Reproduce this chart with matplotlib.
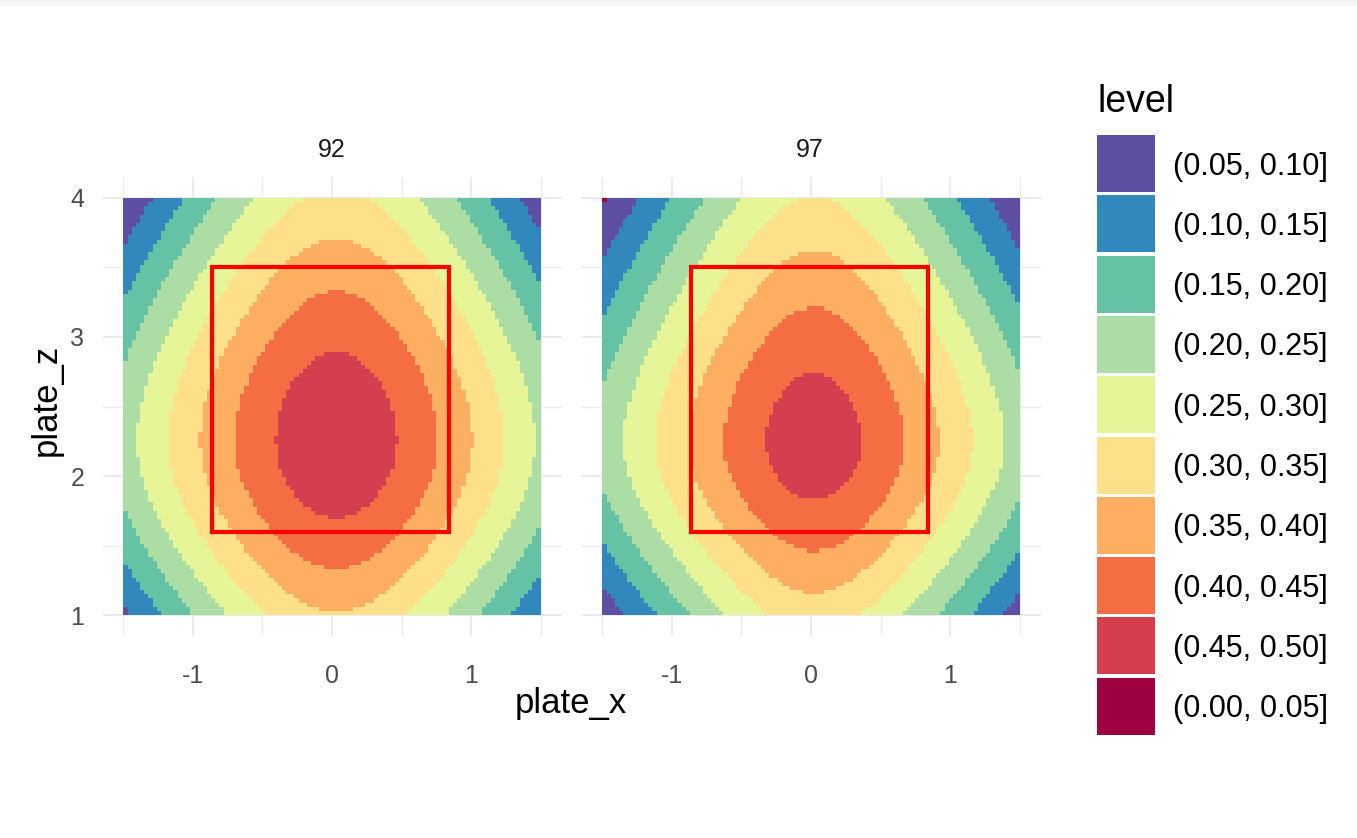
import numpy as np
import matplotlib
matplotlib.use('Agg')
import matplotlib.pyplot as plt
from matplotlib.colors import ListedColormap, BoundaryNorm
from matplotlib.patches import Rectangle

plt.rcParams['font.family'] = ['Liberation Sans', 'DejaVu Sans']
plt.rcParams['axes.unicode_minus'] = False

# Facets (pitch speed) and the fitted swing-probability surface for each
speeds = ['92', '97']
peak_prob = [0.485, 0.475]
x_center = [0.03, 0.02]
z_center = [2.25, 2.24]
x_slope = [0.247, 0.235]
x_round = [0.60, 0.50]
z_slope_up = [0.156, 0.138]
z_slope_down = [0.204, 0.196]
z_round = [0.80, 0.60]

# Binned levels and their Spectral colours
level_breaks = [0.00, 0.05, 0.10, 0.15, 0.20, 0.25, 0.30, 0.35, 0.40, 0.45, 0.50]
level_colors = ['#9E0142', '#5E4FA2', '#3288BD', '#66C2A5', '#ABDDA4',
                '#E6F598', '#FEE08B', '#FDAE61', '#F46D43', '#D53E4F']
legend_labels = ['(0.05, 0.10]', '(0.10, 0.15]', '(0.15, 0.20]', '(0.20, 0.25]',
                 '(0.25, 0.30]', '(0.30, 0.35]', '(0.35, 0.40]', '(0.40, 0.45]',
                 '(0.45, 0.50]', '(0.00, 0.05]']
legend_colors = level_colors[1:] + level_colors[:1]

# Strike zone
zone_x = [-0.86, 0.84]
zone_z = [1.60, 3.50]

W, H = 1357, 838
fig = plt.figure(figsize=(W / 100, H / 100), dpi=100)


def px_box(left, top, right, bottom):
    return [left / W, 1 - bottom / H, (right - left) / W, (bottom - top) / H]


def soft_abs(t, c):
    return np.sqrt(t ** 2 + c ** 2) - c


x_edges = np.linspace(-1.5, 1.5, 101)
z_edges = np.linspace(1.0, 4.0, 101)
xc = (x_edges[:-1] + x_edges[1:]) / 2
zc = (z_edges[:-1] + z_edges[1:]) / 2
X, Z = np.meshgrid(xc, zc)

cmap = ListedColormap(level_colors)
norm = BoundaryNorm(level_breaks, cmap.N)

panel_boxes = [px_box(102, 177, 562, 636), px_box(581, 177, 1041, 636)]
for i, speed in enumerate(speeds):
    ax = fig.add_axes(panel_boxes[i])
    dz = Z - z_center[i]
    z_part = np.where(dz > 0, z_slope_up[i], z_slope_down[i]) * soft_abs(dz, z_round[i])
    prob = peak_prob[i] - x_slope[i] * soft_abs(X - x_center[i], x_round[i]) - z_part
    prob = np.clip(prob, 0.001, 0.499)
    ax.pcolormesh(x_edges, z_edges, prob, cmap=cmap, norm=norm, shading='flat')
    ax.plot([zone_x[0], zone_x[1], zone_x[1], zone_x[0], zone_x[0]],
            [zone_z[0], zone_z[0], zone_z[1], zone_z[1], zone_z[0]],
            color='red', lw=3, solid_joinstyle='miter')

    ax.set_xlim(-1.65, 1.65)
    ax.set_ylim(0.85, 4.15)
    ax.set_aspect('equal')
    ax.set_xticks([-1, 0, 1])
    ax.set_xticks([-1.5, -0.5, 0.5, 1.5], minor=True)
    ax.set_yticks([1, 2, 3, 4])
    ax.set_yticks([1.5, 2.5, 3.5], minor=True)
    ax.set_axisbelow(True)
    ax.grid(which='major', color='#EBEBEB', lw=1.5)
    ax.grid(which='minor', color='#EBEBEB', lw=1.0)
    for s in ax.spines.values():
        s.set_visible(False)
    ax.tick_params(which='both', length=0)
    ax.tick_params(axis='x', pad=20, labelsize=18, labelcolor='#4D4D4D')
    ax.tick_params(axis='y', pad=13, labelsize=18, labelcolor='#4D4D4D')
    if i > 0:
        ax.set_yticklabels([])

# Overlay in pixel coordinates for titles, strips and legend
ov = fig.add_axes([0, 0, 1, 1])
ov.set_xlim(0, W)
ov.set_ylim(H, 0)
ov.axis('off')
ov.add_patch(Rectangle((0, 0), W, 6, color='#F4F4F4', lw=0))

ov.text(332, 150, speeds[0], ha='center', va='center', fontsize=18, color='#1A1A1A')
ov.text(810, 150, speeds[1], ha='center', va='center', fontsize=18, color='#1A1A1A')
ov.text(571, 713, 'plate_x', ha='center', va='baseline', fontsize=25)
ov.text(46, 400, 'plate_z', ha='center', va='center', rotation=90, fontsize=25)

ov.text(1097, 112, 'level', ha='left', va='baseline', fontsize=27)
for k, (lab, col) in enumerate(zip(legend_labels, legend_colors)):
    top = 135 + k * 60.3
    ov.add_patch(Rectangle((1097, top), 58, 57, color=col, lw=0))
    ov.text(1173, top + 28.5 + 11, lab, ha='left', va='baseline', fontsize=22)

fig.savefig('out.png', dpi=100)
